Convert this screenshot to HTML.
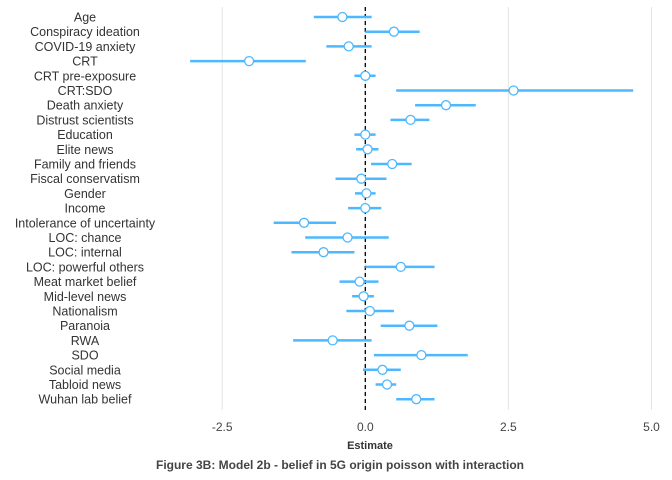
<!DOCTYPE html>
<html><head><meta charset="utf-8"><style>
body{margin:0;background:#fff;}
svg{display:block;font-family:"Liberation Sans",Arial,sans-serif;}
</style></head><body>
<svg id="chart" width="672" height="480">
<g id="grid"></g><g id="marks"></g><g id="labels"></g>
<text x="370" y="449" text-anchor="middle" font-size="11" font-weight="bold" fill="#333">Estimate</text>
<text x="340" y="469" text-anchor="middle" font-size="12" font-weight="bold" fill="#444">Figure 3B: Model 2b - belief in 5G origin poisson with interaction</text>
</svg>
<script>
const terms=["Age","Conspiracy ideation","COVID-19 anxiety","CRT","CRT pre-exposure","CRT:SDO","Death anxiety","Distrust scientists","Education","Elite news","Family and friends","Fiscal conservatism","Gender","Income","Intolerance of uncertainty","LOC: chance","LOC: internal","LOC: powerful others","Meat market belief","Mid-level news","Nationalism","Paranoia","RWA","SDO","Social media","Tabloid news","Wuhan lab belief"];
const estimates=[-0.40,0.50,-0.29,-2.03,0,2.59,1.41,0.79,0,0.04,0.47,-0.07,0.02,0,-1.07,-0.31,-0.73,0.62,-0.10,-0.03,0.08,0.77,-0.57,0.98,0.30,0.38,0.89];
const lower=[-0.90,0,-0.68,-3.06,-0.19,0.54,0.87,0.44,-0.19,-0.16,0.10,-0.52,-0.18,-0.30,-1.60,-1.05,-1.29,0,-0.45,-0.23,-0.33,0.27,-1.26,0.15,-0.04,0.18,0.54];
const upper=[0.11,0.95,0.11,-1.04,0.18,4.68,1.93,1.12,0.18,0.23,0.81,0.37,0.18,0.28,-0.51,0.41,-0.19,1.21,0.23,0.15,0.50,1.26,0.11,1.79,0.62,0.54,1.21];
const ticks=[-2.5,0,2.5,5.0];
const tickLabels=["-2.5","0.0","2.5","5.0"];
const NS="http://www.w3.org/2000/svg";
const x=v=>365.3+v*57.24;
const y=i=>17+i*14.7;
function mk(tag,attrs,parent){const e=document.createElementNS(NS,tag);for(const k in attrs)e.setAttribute(k,attrs[k]);document.getElementById(parent).appendChild(e);return e;}
ticks.forEach((t,i)=>{
 const g=mk("line",{x1:x(t),x2:x(t),y1:7,y2:410,stroke:"#e4e4e4","stroke-width":1},"grid");
 
 
 const tl=mk("text",{x:x(t),y:431,"text-anchor":"middle","font-size":12,fill:"#444"},"labels");
 tl.textContent=tickLabels[i];
 
 
});
const zl=mk("line",{x1:x(0),x2:x(0),y1:7,y2:410,stroke:"#000","stroke-width":1.3,"stroke-dasharray":"4,3"},"grid");


terms.forEach((t,i)=>{
 const lb=mk("text",{x:85,y:y(i)+4.5,"text-anchor":"middle","font-size":12.5,fill:"#333"},"labels");
 lb.textContent=t;
 
 
 const ln=mk("line",{x1:x(lower[i]),x2:x(upper[i]),y1:y(i),y2:y(i),stroke:"#4db8ff","stroke-width":2.5},"marks");
 
 
 const c=mk("circle",{cx:x(estimates[i]),cy:y(i),r:4.5,fill:"#fff",stroke:"#4db8ff","stroke-width":1.3},"marks");
 
 
});
</script>
</body></html>
